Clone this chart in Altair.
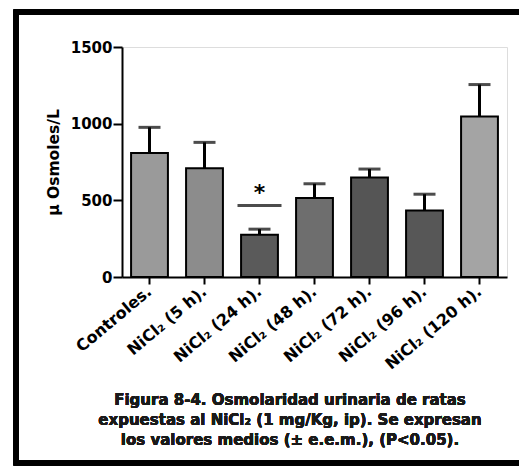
import altair as alt
import pandas as pd

categories = ["Controles.", "NiCl₂ (5 h).", "NiCl₂ (24 h).", "NiCl₂ (48 h).",
              "NiCl₂ (72 h).", "NiCl₂ (96 h).", "NiCl₂ (120 h)."]
means = [808, 710, 275, 516, 649, 433, 1046]
upper = [976, 878, 312, 608, 704, 540, 1255]
fills = ["#9a9a9a", "#8c8c8c", "#5a5a5a", "#6e6e6e", "#555555", "#575757", "#a4a4a4"]

sig_group = ["NiCl₂ (24 h)."]
sig_line = [466]
sig_star = [548]

caption = ["Figura 8-4. Osmolaridad urinaria de ratas",
           "expuestas al NiCl₂ (1 mg/Kg, ip). Se expresan",
           "los valores medios (± e.e.m.), (P<0.05)."]

df = pd.DataFrame({"cat": categories, "mean": means, "upper": upper, "fill": fills})
sig = pd.DataFrame({"cat": sig_group, "line": sig_line, "star": sig_star})

FONT = "DejaVu Sans"

x = alt.X("cat:N", sort=categories, title=None,
          scale=alt.Scale(paddingInner=0.33, paddingOuter=0.165),
          axis=alt.Axis(labelAngle=-40, labelAlign="right", labelBaseline="middle",
                        labelFont=FONT, labelFontSize=16, labelFontWeight="bold",
                        labelColor="black", domainColor="black", domainWidth=2,
                        tickColor="black", tickWidth=2, tickSize=7, labelPadding=5))
y_scale = alt.Scale(domain=[0, 1500], nice=False)

bars = alt.Chart(df).mark_bar(stroke="black", strokeWidth=2).encode(
    x=x,
    y=alt.Y("mean:Q", scale=y_scale, title="µ Osmoles/L",
            axis=alt.Axis(values=[0, 500, 1000, 1500], grid=False, format="d",
                          labelFont=FONT, labelFontSize=15, labelFontWeight="bold",
                          labelColor="black", domainColor="black", domainWidth=2,
                          tickColor="black", tickWidth=2, tickSize=9, labelPadding=1,
                          titleFont=FONT, titleFontSize=15.5, titleFontWeight="bold",
                          titleColor="black", titlePadding=9)),
    fill=alt.Fill("fill:N", scale=None),
)

err = alt.Chart(df).mark_rule(color="black", strokeWidth=3).encode(
    x=alt.X("cat:N", sort=categories),
    y=alt.Y("mean:Q", scale=y_scale),
    y2="upper:Q",
)

caps = alt.Chart(df).mark_tick(color="black", thickness=3, size=22, orient="horizontal").encode(
    x=alt.X("cat:N", sort=categories),
    y=alt.Y("upper:Q", scale=y_scale),
)

sig_rule = alt.Chart(sig).mark_tick(color="black", thickness=3, size=44, orient="horizontal").encode(
    x=alt.X("cat:N", sort=categories),
    y=alt.Y("line:Q", scale=y_scale),
)

star = alt.Chart(sig).mark_text(text="*", font=FONT, fontSize=22, fontWeight="bold",
                                color="black", baseline="middle").encode(
    x=alt.X("cat:N", sort=categories),
    y=alt.Y("star:Q", scale=y_scale),
)

cap_text = alt.Chart(df).mark_text(text=caption, font=FONT, fontSize=15, fontWeight="bold",
                                   color="#1a1a1a", align="center", baseline="top",
                                   lineHeight=20, clip=False).encode(
    x=alt.value(168), y=alt.value(346)
)

frame = alt.Chart(df).mark_rect(fill=None, stroke="black", strokeWidth=5, clip=False).encode(
    x=alt.value(-106), x2=alt.value(440), y=alt.value(-35), y2=alt.value(416)
)

chart = alt.layer(bars, err, caps, sig_rule, star, cap_text, frame).properties(
    width=385, height=230,
    autosize=alt.AutoSizeParams(type="none"),
    padding={"left": 122, "top": 47, "right": 12, "bottom": 189},
).configure_view(stroke=None).configure(background="white")

chart.save("out.html", embed_options={"renderer": "svg", "actions": False})
